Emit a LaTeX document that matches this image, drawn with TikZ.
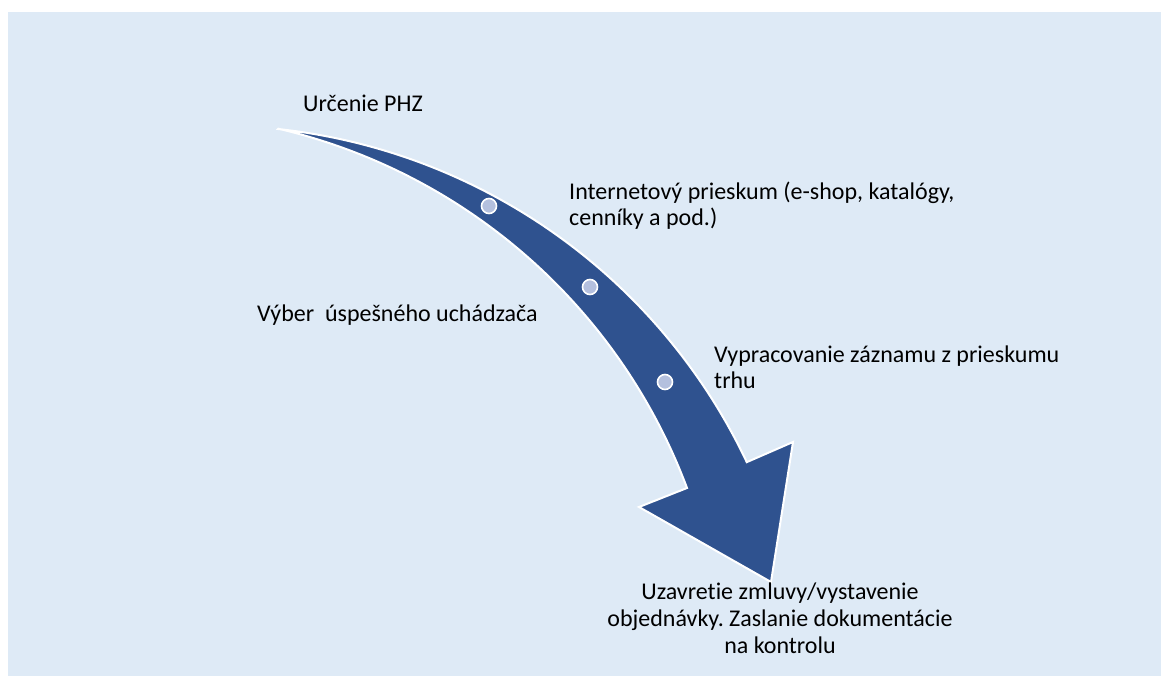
\documentclass[tikz,border=0pt]{standalone}
\usepackage{fontspec}
\setmainfont{Carlito}[Ligatures={NoCommon}]
\frenchspacing
\definecolor{bgblue}{RGB}{222,234,246}
\definecolor{arrowblue}{RGB}{47,82,143}
\definecolor{dotfill}{RGB}{180,192,222}
\tikzset{
  lbl/.style={inner sep=0pt, font=\fontsize{24}{29}\selectfont, text=black},
  dot/.style={circle, fill=dotfill, draw=white, line width=1.6pt, minimum size=15pt, inner sep=0pt}
}
\begin{document}
\begin{tikzpicture}[x=1pt,y=1pt]
\useasboundingbox (0,0) rectangle (1161,-677);
\fill[bgblue] (8,-12) rectangle (1161,-676);
% curved arrow
\filldraw[fill=arrowblue, draw=white, line width=2pt, line join=miter]
  (278,-129) arc[start angle=83.85, end angle=25.35, radius=588.5pt]
  -- (793,-442) -- (771,-582) -- (639,-507) -- (687,-488)
  arc[start angle=20.51, end angle=76.86, radius=576.3pt] -- cycle;
\node[dot] (d1) at (489,-206) {};
\node[dot] (d2) at (590,-287) {};
\node[dot] (d3) at (665,-382) {};
% labels
\node[lbl, anchor=base west] (t1) at (303,-111) {Určenie PHZ};
\node[lbl, anchor=base west] (t2a) at (569,-199) {Internetový prieskum (e-shop, katalógy,};
\node[lbl, anchor=base west] (t2b) at (569,-225) {cenníky a pod.)};
\node[lbl, anchor=base west] (t3) at (257,-321) {Výber\ \ úspešného uchádzača};
\node[lbl, anchor=base west] (t4a) at (714,-362) {Vypracovanie záznamu z prieskumu};
\node[lbl, anchor=base west] (t4b) at (714,-388) {trhu};
\node[lbl, anchor=base] (t5a) at (780,-599) {Uzavretie zmluvy/vystavenie};
\node[lbl, anchor=base] (t5b) at (780,-626) {objednávky. Zaslanie dokumentácie};
\node[lbl, anchor=base] (t5c) at (780,-653) {na kontrolu};
\end{tikzpicture}
\end{document}
